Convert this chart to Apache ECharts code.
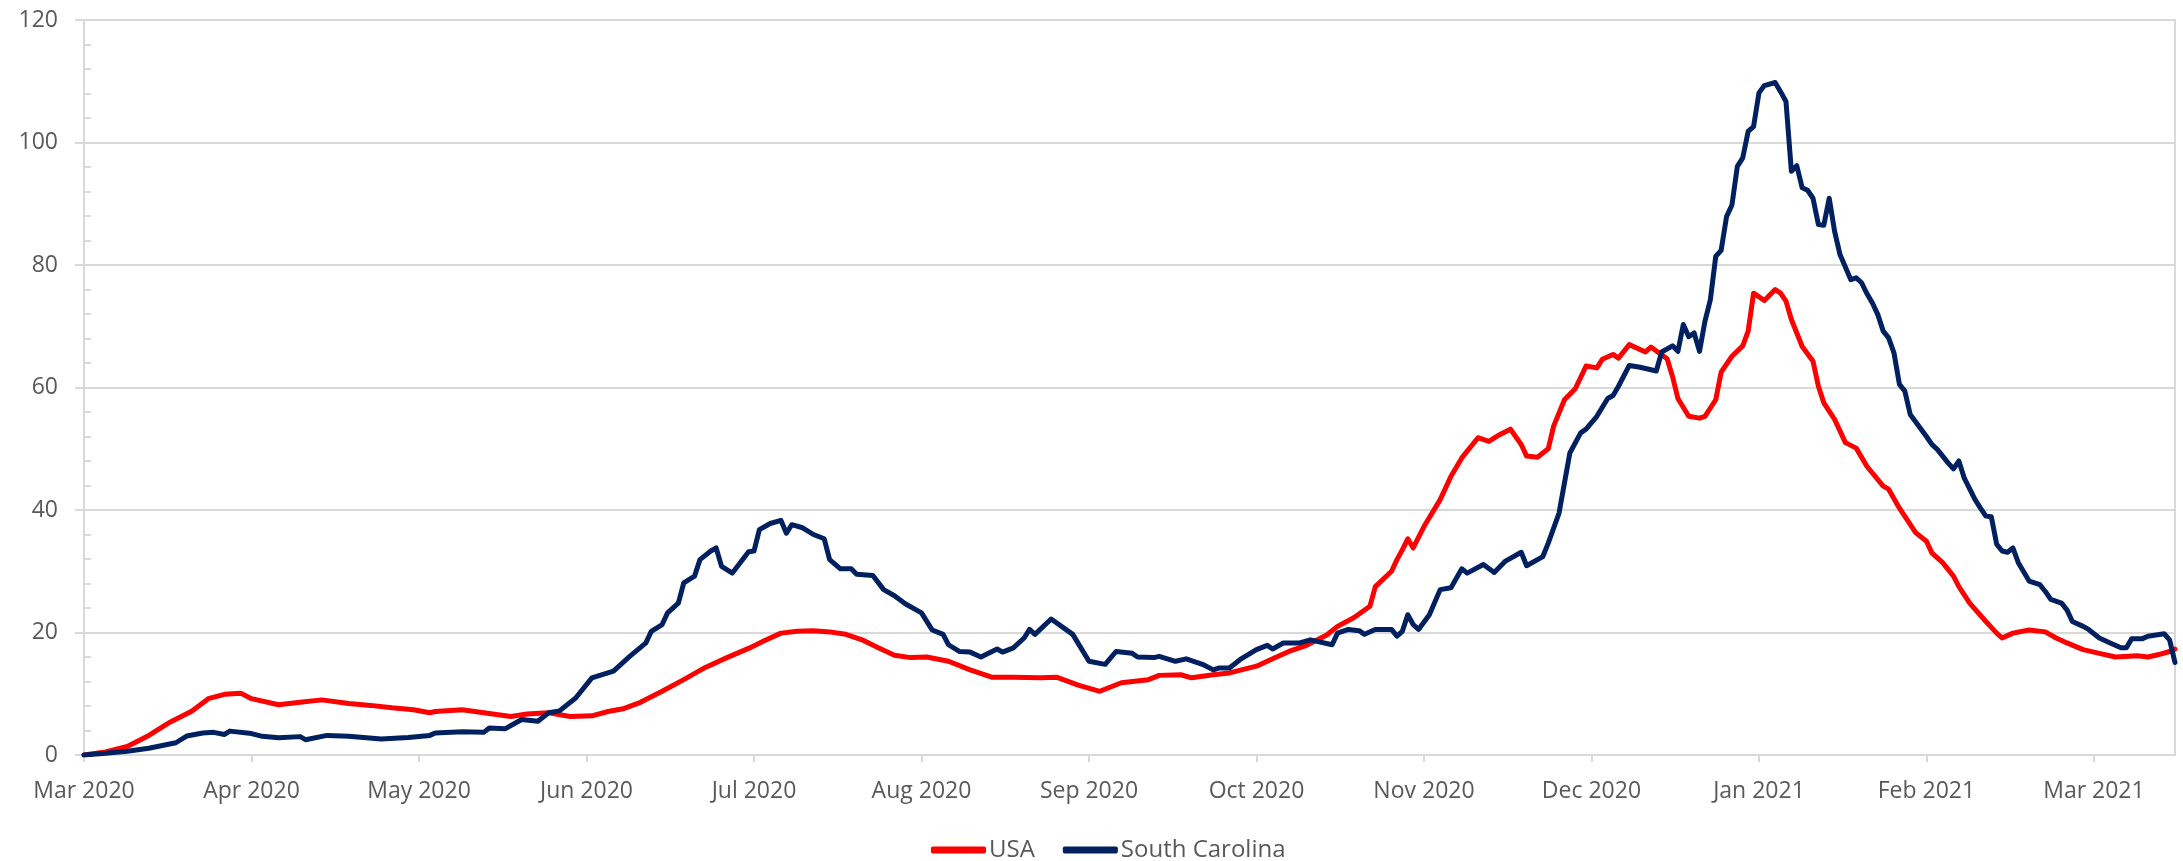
<!DOCTYPE html>
<html>
<head>
<meta charset="utf-8">
<script src="https://cdn.jsdelivr.net/npm/echarts@6/dist/echarts.min.js"></script>
<style>
  html, body { margin: 0; padding: 0; background: #ffffff; }
  #chart { width: 2183px; height: 861px; }
</style>
</head>
<body>
<div id="chart"></div>
<script>
// ---- Data ----
const startDate = '2020-03-01';
const dayCount = 388;            // one category per day, Mar 1 2020 .. Mar 23 2021
const monthNames = ['Jan','Feb','Mar','Apr','May','Jun','Jul','Aug','Sep','Oct','Nov','Dec'];
const seriesNames = ['USA', 'South Carolina'];

// USA: day offset from Mar 1 2020 and value
const usaDay = [0,4,8,12,16,20,23,26,29,31,36,40,44,49,53,57,61,64,65,70,74,79,82,86,90,94,97,100,103,107,111,115,119,123,126,129,132,135,138,141,144,147,150,153,156,160,164,168,172,177,180,184,188,192,197,199,203,205,209,212,217,220,223,226,230,232,235,238,239,242,243,244,245,246,248,251,253,255,258,260,262,264,266,267,269,271,272,274,276,278,280,281,283,284,286,289,290,293,294,295,297,299,300,302,303,305,307,308,309,311,313,314,315,316,317,318,320,321,322,324,326,328,330,333,334,336,339,341,342,344,346,347,349,352,354,355,357,360,363,365,367,370,373,376,380,382,384,386,387];
const usaVal = [0,0.5,1.4,3.2,5.4,7.2,9.2,9.9,10.1,9.2,8.2,8.6,9.0,8.4,8.1,7.7,7.4,6.9,7.1,7.4,6.9,6.3,6.7,6.9,6.3,6.4,7.1,7.6,8.6,10.4,12.3,14.3,15.9,17.4,18.7,19.9,20.2,20.3,20.1,19.7,18.8,17.5,16.3,15.9,16.0,15.3,13.9,12.7,12.7,12.6,12.7,11.4,10.4,11.8,12.3,13.0,13.1,12.6,13.1,13.4,14.5,15.7,16.9,17.8,19.6,21.0,22.4,24.3,27.5,30.0,31.9,33.5,35.3,33.8,37.3,41.7,45.5,48.5,51.8,51.2,52.3,53.2,50.7,48.8,48.6,50.0,53.7,58.0,59.8,63.5,63.2,64.6,65.4,64.8,67.0,65.8,66.6,64.7,61.8,58.2,55.3,55.0,55.3,58.0,62.5,65.1,66.8,69.2,75.4,74.2,76.0,75.4,74.1,71.1,68.9,66.7,64.3,60.2,57.5,54.8,51.0,50.1,47.1,43.9,43.4,40.3,36.3,34.9,33.0,31.4,29.2,27.5,24.8,21.8,19.9,19.1,19.9,20.4,20.1,19.1,18.3,17.2,16.6,16.0,16.2,16.0,16.4,16.9,17.3];

// South Carolina: day offset from Mar 1 2020 and value
const scDay = [0,4,8,12,17,19,22,24,26,27,31,33,36,40,41,45,49,55,60,64,65,70,74,75,78,81,84,86,88,91,94,98,101,104,105,107,108,110,111,113,114,116,117,118,120,123,124,125,127,129,130,131,133,135,137,138,140,142,143,146,148,150,152,155,157,159,160,162,164,166,169,170,172,174,175,176,179,183,186,189,191,194,195,198,199,202,204,207,209,210,212,214,217,219,220,222,225,227,231,232,234,236,237,239,242,243,244,245,246,247,249,251,253,255,256,259,261,263,266,267,270,271,273,274,275,277,278,280,282,283,284,286,288,291,292,294,295,296,297,298,299,300,301,302,303,304,305,306,307,308,309,310,311,313,314,315,316,317,318,319,320,321,322,323,324,325,327,328,329,330,331,332,333,334,335,336,337,338,341,342,343,345,346,347,348,350,351,352,353,354,355,356,357,358,360,362,363,364,366,367,368,370,371,373,375,377,378,379,381,382,385,386,387];
const scVal = [0,0.3,0.6,1.1,2.0,3.1,3.6,3.7,3.35,3.9,3.5,3.05,2.8,3.0,2.5,3.2,3.05,2.6,2.85,3.2,3.6,3.8,3.7,4.4,4.3,5.8,5.5,6.9,7.2,9.3,12.6,13.7,16.1,18.3,20.2,21.3,23.2,24.8,28.1,29.2,31.9,33.3,33.8,30.8,29.7,33.2,33.3,36.8,37.8,38.3,36.2,37.6,37.1,36.0,35.3,31.9,30.4,30.4,29.5,29.3,27.0,26.0,24.7,23.2,20.4,19.7,18.0,16.9,16.8,16.0,17.3,16.8,17.5,19.1,20.5,19.7,22.2,19.7,15.3,14.8,16.9,16.6,16.0,15.9,16.1,15.3,15.7,14.8,13.9,14.2,14.2,15.6,17.2,17.9,17.3,18.3,18.3,18.8,18.0,19.9,20.5,20.3,19.7,20.5,20.5,19.4,20.2,22.9,21.3,20.5,22.9,27.0,27.3,30.4,29.7,31.1,29.8,31.6,33.1,30.9,32.4,34.6,39.5,44.4,49.3,52.6,53.2,55.3,58.2,58.7,60.2,63.6,63.3,62.7,65.8,66.8,65.9,70.3,68.3,68.9,65.9,70.8,74.3,81.4,82.4,87.9,89.8,96.1,97.5,101.8,102.6,108.1,109.3,109.8,108.3,106.7,95.3,96.2,92.6,92.2,90.9,86.6,86.5,90.9,85.5,81.7,77.6,77.9,77.1,75.3,73.8,71.9,69.2,68.1,65.6,60.5,59.4,55.6,52.0,50.7,49.9,47.7,46.7,48.0,45.2,41.7,40.3,39.0,38.9,34.4,33.3,33.1,33.8,31.4,28.4,27.8,26.7,25.4,24.8,23.7,21.8,21.0,20.5,19.1,18.3,17.5,17.5,19.0,19.0,19.4,19.8,18.8,15.1];

// ---- Build categories (daily dates) ----
const categories = [];
(function () {
  const p = startDate.split('-').map(Number);
  for (let i = 0; i < dayCount; i++) {
    const d = new Date(Date.UTC(p[0], p[1] - 1, p[2] + i));
    categories.push(d.toISOString().slice(0, 10));
  }
})();
function pairs(days, vals) { return days.map((d, i) => [d, vals[i]]); }

const TXT = '#595959';
const GRID = '#d9d9d9';
const FONT = '"Open Sans", "Noto Sans", sans-serif';

const chart = echarts.init(document.getElementById('chart'), null, { renderer: 'canvas' });
chart.setOption({
  animation: false,
  backgroundColor: '#ffffff',
  textStyle: { fontFamily: FONT },
  grid: {
    left: 84, right: 8, top: 20, bottom: 106,
    show: true, borderColor: GRID, borderWidth: 2, backgroundColor: 'transparent'
  },
  legend: {
    data: seriesNames,
    left: 926, top: 833,
    itemWidth: 55, itemHeight: 7, itemGap: 28,
    icon: 'roundRect',
    textStyle: { color: TXT, fontSize: 24, fontFamily: FONT, padding: [0, 0, 0, -2] }
  },
  xAxis: {
    type: 'category',
    data: categories,
    boundaryGap: false,
    axisLine: { show: true, lineStyle: { color: GRID, width: 2 } },
    axisTick: { show: true, interval: 30, length: 7, lineStyle: { color: GRID, width: 2 } },
    axisLabel: {
      interval: 30, color: TXT, fontSize: 23, fontFamily: FONT, margin: 25,
      formatter: function (v) {
        const y = v.slice(0, 4), m = parseInt(v.slice(5, 7), 10);
        return monthNames[m - 1] + ' ' + y;
      }
    },
    splitLine: { show: false }
  },
  yAxis: [
    {
      type: 'value', min: 0, max: 120, interval: 20,
      axisLine: { show: true, lineStyle: { color: GRID, width: 2 } },
      axisTick: { show: true, length: 9, lineStyle: { color: GRID, width: 2 } },
      axisLabel: { color: TXT, fontSize: 23, fontFamily: FONT, margin: 26 },
      splitLine: { show: true, lineStyle: { color: GRID, width: 2 } }
    },
    {
      type: 'value', min: 0, max: 120, interval: 4, position: 'left',
      axisLine: { show: false },
      axisTick: { show: true, inside: true, length: 7, lineStyle: { color: GRID, width: 2 } },
      axisLabel: { show: false },
      splitLine: { show: false }
    }
  ],
  series: [
    {
      name: 'USA', type: 'line', yAxisIndex: 0,
      data: pairs(usaDay, usaVal),
      symbol: 'none', smooth: false,
      lineStyle: { color: '#ff0000', width: 5, join: 'round', cap: 'round' },
      itemStyle: { color: '#ff0000' }
    },
    {
      name: 'South Carolina', type: 'line', yAxisIndex: 0,
      data: pairs(scDay, scVal),
      symbol: 'none', smooth: false,
      lineStyle: { color: '#002060', width: 5, join: 'round', cap: 'round' },
      itemStyle: { color: '#002060' }
    }
  ]
});
</script>
</body>
</html>
